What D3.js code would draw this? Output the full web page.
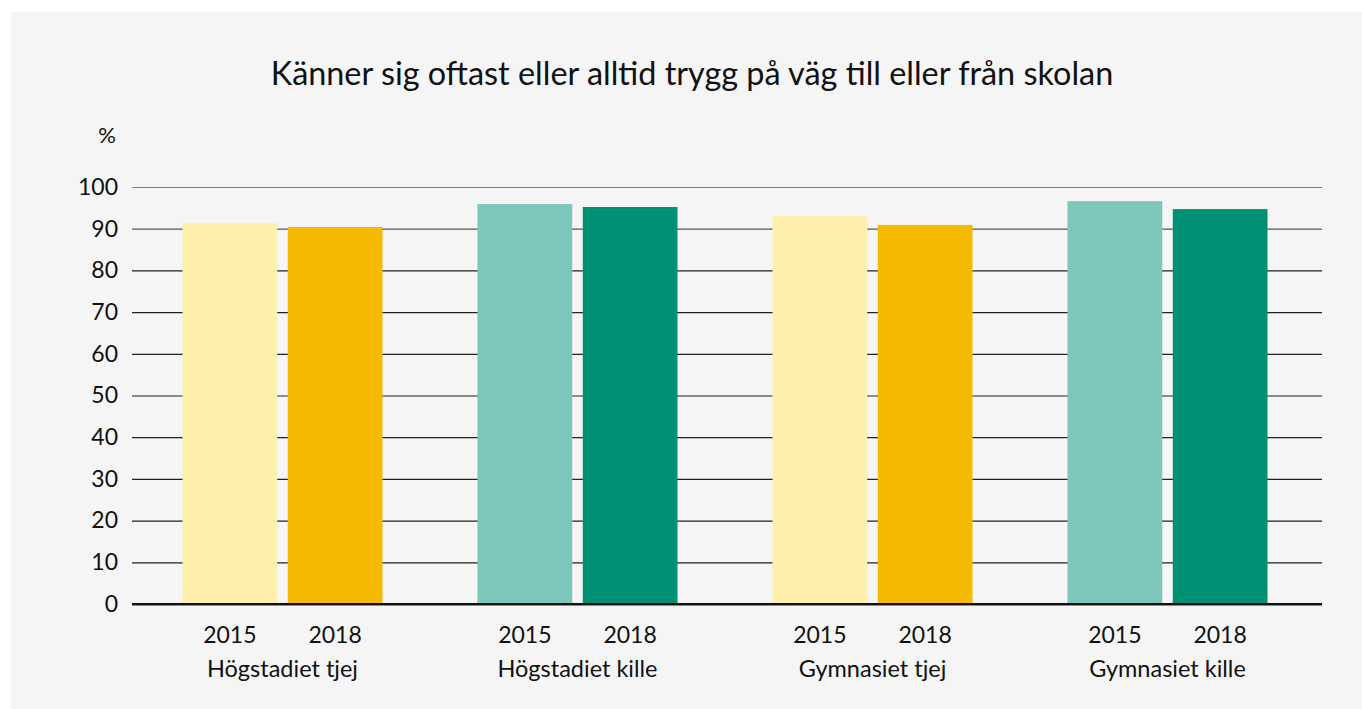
<!DOCTYPE html>
<html>
<head>
<meta charset="utf-8">
<script src="https://cdn.jsdelivr.net/npm/d3@7"></script>
<style>
  body { margin: 0; background: #fff; }
  svg text { font-family: Lato, "Noto Sans", sans-serif; fill: #111; }
</style>
</head>
<body>
<div id="chart"></div>
<script>
// data
const groups = ["Högstadiet tjej", "Högstadiet kille", "Gymnasiet tjej", "Gymnasiet kille"];
const years = ["2015", "2018"];
const values2015 = [91.4, 95.9, 93.0, 96.6];
const values2018 = [90.4, 95.2, 90.9, 94.7];
const yTicks = [0, 10, 20, 30, 40, 50, 60, 70, 80, 90, 100];
const colors = {
  tjej: ["#ffefad", "#f5ba00"],
  kille: ["#7dc6bb", "#009175"],
};

const W = 1362, H = 709;
const M = { top: 187, left: 132 };
const width = 1322 - M.left;
const height = 604 - M.top;

const svg = d3.select("#chart").append("svg")
  .attr("width", W).attr("height", H);

// panel background
svg.append("rect")
  .attr("x", 11).attr("y", 12)
  .attr("width", W - 11).attr("height", H - 12)
  .attr("fill", "#f5f5f5");

svg.append("text")
  .attr("x", 692).attr("y", 85)
  .attr("text-anchor", "middle")
  .attr("font-size", "32.4px")
  .text("Känner sig oftast eller alltid trygg på väg till eller från skolan");

svg.append("text")
  .attr("x", 107).attr("y", 143)
  .attr("text-anchor", "middle")
  .attr("font-size", "22px")
  .text("%");

const g = svg.append("g").attr("transform", `translate(${M.left},${M.top})`);

const x0 = d3.scaleBand().domain(groups).range([3, 1183]);
const x1 = d3.scaleBand().domain(years).range([47.5, x0.bandwidth() - 47.5]).paddingInner(0.1);
const y = d3.scaleLinear().domain([0, 100]).range([height, 0]);

// gridlines + y labels
const yAxis = g.append("g")
  .call(d3.axisLeft(y).tickValues(yTicks).tickSize(-width).tickPadding(14))
  .call((a) => a.select(".domain").remove());
yAxis.selectAll(".tick line")
  .attr("stroke", (d) => (d === 100 ? "#808080" : d === 90 ? "#555" : "#222"))
  .attr("stroke-width", (d) => (d === 0 ? 2 : 1.2));
yAxis.selectAll(".tick text")
  .attr("font-size", "23px")
  .attr("font-family", "Lato, 'Noto Sans', sans-serif")
  .attr("fill", "#111");

// bars
const rows = groups.map((name, i) => ({
  name,
  kind: name.endsWith("tjej") ? "tjej" : "kille",
  vals: [values2015[i], values2018[i]],
}));

const grp = g.append("g").selectAll("g")
  .data(rows)
  .join("g")
  .attr("transform", (d) => `translate(${x0(d.name)},0)`);

grp.selectAll("rect")
  .data((d) => d.vals.map((v, j) => ({ year: years[j], v, c: colors[d.kind][j] })))
  .join("rect")
  .attr("x", (d) => x1(d.year))
  .attr("y", (d) => y(d.v))
  .attr("width", x1.bandwidth())
  .attr("height", (d) => height - y(d.v))
  .attr("fill", (d) => d.c);

// baseline drawn over the bars
g.append("line")
  .attr("x1", 0).attr("x2", width)
  .attr("y1", height).attr("y2", height)
  .attr("stroke", "#111").attr("stroke-width", 2);

grp.selectAll("text.year")
  .data(years)
  .join("text")
  .attr("class", "year")
  .attr("x", (d) => x1(d) + x1.bandwidth() / 2)
  .attr("y", height + 39)
  .attr("text-anchor", "middle")
  .attr("font-size", "23px")
  .text((d) => d);

grp.append("text")
  .attr("x", x0.bandwidth() / 2)
  .attr("y", height + 73)
  .attr("text-anchor", "middle")
  .attr("font-size", "23.5px")
  .text((d) => d.name);
</script>
</body>
</html>
